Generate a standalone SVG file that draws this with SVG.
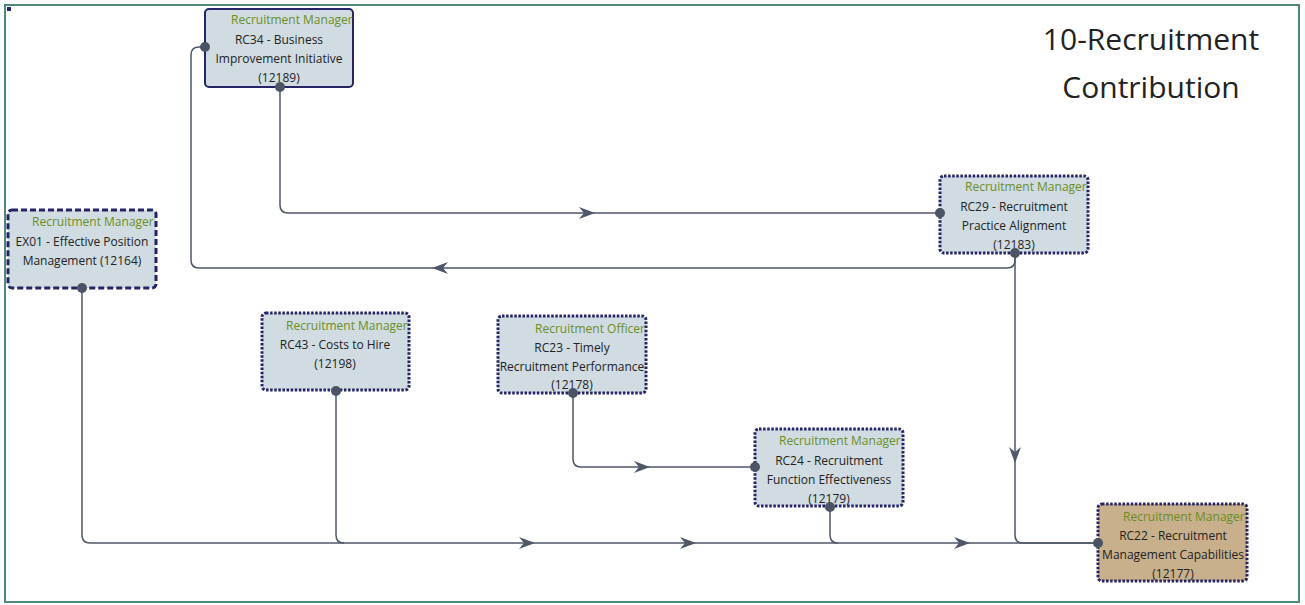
<svg xmlns="http://www.w3.org/2000/svg" width="1305" height="605" viewBox="0 0 1305 605">
<style>
.nb{fill:#d0dce2;stroke:#262466;stroke-width:3}
.dot{stroke-dasharray:2.5 1.6}
.dash{stroke-dasharray:6 3}
.solid{stroke-width:2}
.tan{fill:#c8b08c}
.role{font-family:"Segoe UI","Open Sans","Noto Sans",sans-serif;font-size:12px;fill:#6b8e23}
.lbl{font-family:"Segoe UI","Open Sans","Noto Sans",sans-serif;font-size:12px;fill:#222;text-anchor:middle}
.title{font-family:"Segoe UI","Open Sans","Noto Sans",sans-serif;font-size:30px;fill:#222;text-anchor:middle}
.c{fill:none;stroke:#4f5868;stroke-width:1.5}
.pt{fill:#4a5464}
</style>
<defs>
<marker id="ar" viewBox="0 0 16 12" refX="8" refY="6" markerWidth="16" markerHeight="12" markerUnits="userSpaceOnUse" orient="auto">
<path d="M0,0 L16,6 L0,12 L5,6 Z" fill="#4f5868"/>
</marker>
</defs>
<rect x="0" y="0" width="1305" height="605" fill="#fff"/>
<rect x="5" y="5" width="1294" height="597" fill="#fff" stroke="#4f8a78" stroke-width="2"/>
<rect x="7" y="7" width="4" height="4" fill="#262466"/>
<g id="title">
<text class="title" x="1151" y="50">10-Recruitment</text>
<text class="title" x="1151" y="98">Contribution</text>
</g>
<g id="connectors">
<path class="c" d="M280,87 V205 Q280,213 288,213 H940" />
<path class="c" d="M280,213 H587" marker-end="url(#ar)" style="stroke:none"/>
<path class="c" d="M1015,253 V260 Q1015,268 1007,268 H199 Q191,268 191,260 V55 Q191,47 199,47 H205"/>
<path class="c" d="M600,268 H440" marker-end="url(#ar)" style="stroke:none"/>
<path class="c" d="M1015,253 V535 Q1015,543 1023,543 H1098"/>
<path class="c" d="M1015,400 V455" marker-end="url(#ar)" style="stroke:none"/>
<path class="c" d="M82,288 V535 Q82,543 90,543 H1098"/>
<path class="c" d="M400,543 H527" marker-end="url(#ar)" style="stroke:none"/>
<path class="c" d="M336,391 V535 Q336,543 344,543"/>
<path class="c" d="M600,543 H688" marker-end="url(#ar)" style="stroke:none"/>
<path class="c" d="M830,507 V535 Q830,543 838,543"/>
<path class="c" d="M900,543 H962" marker-end="url(#ar)" style="stroke:none"/>
<path class="c" d="M573,393 V459 Q573,467 581,467 H755"/>
<path class="c" d="M600,467 H642" marker-end="url(#ar)" style="stroke:none"/>
</g>
<g id="RC34">
<rect class="nb solid" x="205" y="9" width="148" height="78" rx="4"/>
<text class="role" x="231" y="24">Recruitment Manager</text>
<text class="lbl" x="279" y="44">RC34 - Business</text>
<text class="lbl" x="279" y="63">Improvement Initiative</text>
<text class="lbl" x="279" y="82">(12189)</text>
<circle class="pt" cx="205" cy="47" r="5"/>
<circle class="pt" cx="280" cy="87" r="5"/>
</g>
<g id="RC29">
<rect class="nb dot" x="940" y="176" width="148" height="77" rx="4"/>
<text class="role" x="965" y="191">Recruitment Manager</text>
<text class="lbl" x="1014" y="211">RC29 - Recruitment</text>
<text class="lbl" x="1014" y="230">Practice Alignment</text>
<text class="lbl" x="1014" y="249">(12183)</text>
<circle class="pt" cx="940" cy="213" r="5"/>
<circle class="pt" cx="1015" cy="253" r="5"/>
</g>
<g id="EX01">
<rect class="nb dash" x="8" y="210" width="148" height="78" rx="4"/>
<text class="role" x="32" y="226">Recruitment Manager</text>
<text class="lbl" x="82" y="246">EX01 - Effective Position</text>
<text class="lbl" x="82" y="265">Management (12164)</text>
<circle class="pt" cx="82" cy="288" r="5"/>
</g>
<g id="RC43">
<rect class="nb dot" x="262" y="313" width="147" height="77" rx="4"/>
<text class="role" x="286" y="330">Recruitment Manager</text>
<text class="lbl" x="335" y="349">RC43 - Costs to Hire</text>
<text class="lbl" x="335" y="368">(12198)</text>
<circle class="pt" cx="336" cy="391" r="5"/>
</g>
<g id="RC23">
<rect class="nb dot" x="498" y="316" width="148" height="77" rx="4"/>
<text class="role" x="535" y="333">Recruitment Officer</text>
<text class="lbl" x="572" y="352">RC23 - Timely</text>
<text class="lbl" x="572" y="371">Recruitment Performance</text>
<text class="lbl" x="572" y="389">(12178)</text>
<circle class="pt" cx="573" cy="393" r="5"/>
</g>
<g id="RC24">
<rect class="nb dot" x="755" y="429" width="148" height="77" rx="4"/>
<text class="role" x="779" y="445">Recruitment Manager</text>
<text class="lbl" x="829" y="465">RC24 - Recruitment</text>
<text class="lbl" x="829" y="484">Function Effectiveness</text>
<text class="lbl" x="829" y="503">(12179)</text>
<circle class="pt" cx="755" cy="467" r="5"/>
<circle class="pt" cx="830" cy="507" r="5"/>
</g>
<g id="RC22">
<rect class="nb dot tan" x="1098" y="504" width="149" height="77" rx="4"/>
<text class="role" x="1123" y="521">Recruitment Manager</text>
<text class="lbl" x="1173" y="540">RC22 - Recruitment</text>
<text class="lbl" x="1173" y="559">Management Capabilities</text>
<text class="lbl" x="1173" y="578">(12177)</text>
<circle class="pt" cx="1098" cy="543" r="5"/>
</g>
</svg>
